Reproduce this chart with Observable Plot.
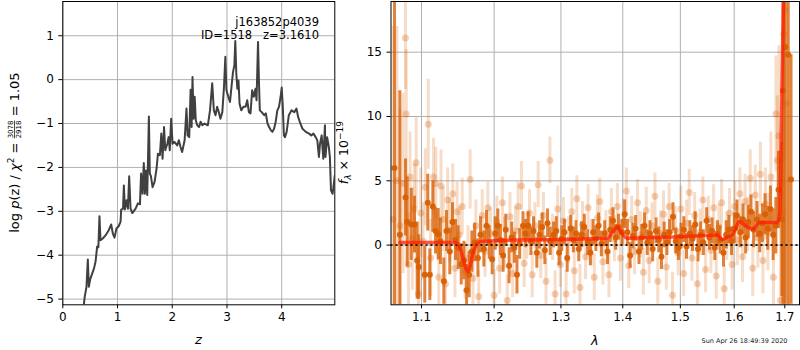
<!DOCTYPE html>
<html><head><meta charset="utf-8">
<script src="https://cdn.jsdelivr.net/npm/d3@7"></script>
<script src="https://cdn.jsdelivr.net/npm/@observablehq/plot@0.6"></script>
<style>
body{margin:0;background:#fff;}
#wrap{position:relative;width:800px;height:350px;font-family:"DejaVu Sans",sans-serif;overflow:hidden;}
#left{position:absolute;left:0;top:0;}
#right{position:absolute;left:336px;top:0;}
svg{overflow:visible;}
</style></head>
<body><div id="wrap"><div id="left"></div><div id="right"></div></div>
<script>
// ---------- left panel: log p(z) ----------
const zVals = [0.37,0.40,0.433,0.457,0.476,0.50,0.537,0.57,0.598,0.628,0.65,0.67,0.689,0.73,0.78,0.84,0.884,0.915,0.945,0.98,1.02,1.055,1.067,1.10,1.116,1.134,1.165,1.19,1.213,1.238,1.27,1.33,1.372,1.41,1.43,1.457,1.48,1.50,1.52,1.543,1.573,1.59,1.61,1.64,1.677,1.713,1.738,1.774,1.80,1.823,1.85,1.872,1.91,1.933,1.955,1.98,2.006,2.04,2.09,2.12,2.15,2.18,2.226,2.26,2.28,2.31,2.335,2.354,2.37,2.39,2.41,2.43,2.457,2.49,2.518,2.55,2.59,2.65,2.69,2.73,2.76,2.79,2.82,2.85,2.88,2.915,2.945,2.97,2.99,3.024,3.055,3.085,3.11,3.135,3.152,3.17,3.19,3.21,3.23,3.26,3.30,3.34,3.37,3.40,3.43,3.46,3.49,3.52,3.54,3.567,3.585,3.60,3.634,3.68,3.71,3.74,3.77,3.80,3.83,3.86,3.89,3.92,3.95,3.98,4.0,4.02,4.04,4.06,4.09,4.13,4.18,4.23,4.27,4.30,4.33,4.38,4.44,4.50,4.54,4.58,4.62,4.65,4.68,4.70,4.73,4.745,4.76,4.79,4.80,4.83,4.86,4.88,4.90,4.93,4.945,4.97];
const logpVals = [-5.3,-4.95,-4.72,-4.10,-4.72,-4.55,-4.42,-4.3,-4.15,-3.80,-3.82,-3.11,-3.66,-3.62,-3.55,-3.43,-3.30,-3.51,-3.60,-3.39,-3.34,-3.24,-2.96,-2.94,-2.41,-2.96,-2.75,-2.94,-2.20,-2.94,-3.04,-2.94,-2.82,-2.84,-2.14,-2.60,-1.90,-2.60,-2.07,-2.63,-0.84,-2.14,-2.2,-2.45,-2.33,-2.03,-1.69,-1.72,-1.23,-1.80,-1.08,-1.61,-1.46,-1.31,-1.61,-0.89,-1.46,-1.42,-1.50,-1.38,-1.53,-1.65,-1.38,-0.66,-1.27,-1.31,-0.23,-1.08,0.06,-0.89,-0.39,-0.93,-1.04,-1.08,-0.96,-1.04,-1.00,-1.04,-0.70,-0.08,-0.70,-0.81,-0.62,-0.74,-0.89,-0.74,-0.17,0.52,-0.24,-0.39,-0.51,-0.13,0.17,0.33,0.88,0.14,-0.21,-0.02,-0.55,-0.70,-0.62,-0.62,-0.47,-0.74,-0.77,-0.24,-0.39,-0.21,-0.47,0.86,-0.09,-0.70,-0.74,-0.81,-0.77,-1.00,-1.08,-1.15,-1.19,-1.12,-0.96,-0.70,-0.62,-0.39,-0.18,-0.62,-1.27,-1.31,-1.19,-0.81,-0.70,-0.74,-0.66,-0.85,-0.96,-1.12,-1.19,-1.23,-1.27,-1.23,-1.31,-1.38,-1.76,-1.46,-1.27,-1.55,-1.80,-1.04,-1.76,-1.31,-1.53,-1.76,-2.52,-2.60,-2.45,-2.18];
const zTicks = [0,1,2,3,4];
const lpTicks = [-5,-4,-3,-2,-1,0,1];
const annotation = "j163852p4039\nID=1518   z=3.1610";

// ---------- right panel: spectrum ----------
const darkLam = [1.065,1.0718,1.0791,1.0813,1.0865,1.0908,1.0943,1.0964,1.1043,1.1083,1.1110,1.1150,1.1186,1.1222,1.1253,1.1298,1.1334,1.1379,1.1416,1.1457,1.1494,1.1536,1.1573,1.1610,1.1647,1.1684,1.1722,1.1769,1.1806,1.1853,1.1891,1.1930,1.1972,1.2016,1.2053,1.2091,1.2130,1.2168,1.2217,1.2255,1.2294,1.2333,1.2373,1.2422,1.2461,1.2500,1.2540,1.2580,1.2630,1.2670,1.2711,1.2752,1.2793,1.2834,1.2886,1.2928,1.2971,1.3013,1.3055,1.3098,1.3152,1.3195,1.3238,1.3281,1.3325,1.3369,1.3423,1.3467,1.3512,1.3556,1.3600,1.3645,1.3700,1.3746,1.3791,1.3837,1.3882,1.3928,1.3986,1.4032,1.4078,1.4124,1.4171,1.4217,1.4275,1.4322,1.4369,1.4416,1.4463,1.4510,1.4569,1.4617,1.4664,1.4712,1.4760,1.4808,1.4868,1.4917,1.4965,1.5014,1.5063,1.5111,1.5172,1.5221,1.5270,1.5320,1.5369,1.5419,1.5481,1.5531,1.5581,1.5632,1.5682,1.5733,1.5796,1.5847,1.5898,1.5949,1.6001,1.6052,1.6117,1.6169,1.6220,1.6273,1.6325,1.6377,1.6443,1.6496,1.6549,1.6602,1.6656,1.6710,1.6764,1.6818,1.6872,1.6940,1.6965,1.7010,1.7070,1.7127];
const darkFlux = [6,0.8,3.7,1.8,1.6,1.6,-1.2,-1.7,-2.3,3.3,-2.3,3.0,1.1,0.85,0.3,-2.8,1.1,-0.5,1.8,0.4,-0.2,-1.5,-1.2,-3.5,-2.3,-0.5,0.2,-1.0,0.8,-0.3,1.5,0.2,-1.1,0.9,1.5,0.4,-0.8,1.2,-1.6,0.6,-0.2,-2.3,0.1,1.5,0.9,1.5,0.3,1.1,-0.6,0.8,1.4,-0.4,1.7,0.3,0.8,1.1,-0.6,0.5,1.0,-1.0,1.3,0.4,0.9,-0.3,0.8,1.4,0.2,-0.6,1.0,0.5,1.5,0.1,0.9,-0.5,1.2,1.9,0.6,1.4,1.0,2.4,1.0,-0.8,0.7,1.3,-0.5,0.6,1.5,0.2,0.9,-0.3,1.1,0.4,-0.9,0.8,0.2,1.0,2.2,0.3,-0.2,0.7,1.2,-0.1,0.9,0.5,1.6,-0.3,0.8,0.2,1.9,0.6,1.1,-0.2,0.9,0.4,-0.6,0.8,1.2,0.3,1.3,2.3,1.0,2.0,0.6,1.8,2.6,1.2,2.0,0.9,1.7,2.4,1.3,2.8,0.8,1.5,4.3,2.0,12,15.4,14.8,5.1];
const darkErr = [20,11.2,3.0,3.5,2.8,2.2,3.0,2.5,2.2,2.2,2.0,2.0,1.8,2.0,1.8,1.8,1.6,1.8,1.5,1.6,1.7,1.6,1.5,2.0,1.8,1.6,1.5,1.5,1.4,1.4,1.2,1.3,1.2,1.3,1.3,1.2,1.3,1.2,1.4,1.2,1.2,1.5,1.2,1.1,1.1,1.1,1.1,1.1,1.2,1.1,1.1,1.1,1.1,1.1,1.0,1.1,1.0,1.0,1.0,1.1,1.0,1.0,1.0,1.0,1.0,1.0,1.0,1.0,1.0,1.0,1.0,1.0,1.0,1.0,1.0,1.0,1.0,1.0,1.0,1.1,1.0,1.0,1.0,1.0,1.0,1.0,1.0,1.0,1.0,1.0,1.0,1.0,1.0,1.0,1.0,1.0,1.1,1.0,1.0,1.0,1.0,1.0,1.0,1.0,1.0,1.0,1.0,1.0,1.0,1.0,1.0,1.0,1.0,1.1,1.1,1.1,1.1,1.1,1.2,1.2,1.2,1.2,1.3,1.3,1.3,1.4,1.4,1.5,1.5,1.6,1.7,1.8,2.0,2.2,3.0,6.0,25,20,19.5,9.7];

const lightLam = [1.0630,1.0680,1.0720,1.0760,1.0790,1.0800,1.0830,1.0850,1.0880,1.0905,1.0930,1.0960,1.0990,1.1020,1.1050,1.1090,1.1120,1.1160,1.1190,1.1230,1.1260,1.1290,1.1320,1.1350,1.1380,1.1420,1.1450,1.1480,1.1510,1.1550,1.1590,1.1630,1.1660,1.1700,1.1740,1.1780,1.1830,1.1870,1.1910,1.1950,1.2000,1.2040,1.2080,1.2120,1.2150,1.2190,1.2230,1.2270,1.2310,1.2350,1.2400,1.2440,1.2480,1.2520,1.2560,1.2600,1.2650,1.2690,1.2730,1.2770,1.2830,1.2870,1.2910,1.2950,1.2990,1.3040,1.3080,1.3120,1.3170,1.3210,1.3250,1.3300,1.3340,1.3390,1.3430,1.3480,1.3530,1.3580,1.3620,1.3670,1.3720,1.3770,1.3810,1.3860,1.3910,1.3960,1.4010,1.4060,1.4100,1.4150,1.4200,1.4250,1.4300,1.4350,1.4400,1.4450,1.4500,1.4550,1.4600,1.4650,1.4700,1.4750,1.4800,1.4860,1.4910,1.4960,1.5010,1.5060,1.5110,1.5160,1.5210,1.5260,1.5310,1.5360,1.5410,1.5460,1.5510,1.5560,1.5610,1.5660,1.5710,1.5760,1.5810,1.5860,1.5910,1.5960,1.6010,1.6060,1.6110,1.6160,1.6210,1.6260,1.6310,1.6360,1.6410,1.6460,1.6510,1.6560,1.6610,1.6660,1.6720,1.6770,1.6820,1.6850,1.6880,1.6910,1.6950,1.6980,1.7000,1.7030];
const lightFlux = [2.0,5.0,1.5,4.8,16.1,10.2,-1.5,5.3,0.5,2.8,6.4,-3.8,2.5,0.3,4.5,9.4,-1.0,5.3,4.8,-2.5,4.6,2.0,-3.0,3.5,1.2,4.0,-1.8,2.6,0.8,3.0,-2.0,-1.0,5.1,-2.6,1.5,-4.0,2.3,-0.5,2.9,0.9,-3.9,1.8,-1.8,3.3,0.2,-4.3,2.2,-2.2,1.1,3.0,4.6,-1.4,0.7,2.5,-2.3,1.5,4.7,-0.8,2.3,-2.8,6.6,0.6,-3.8,2.8,-1.5,1.9,-3.8,0.4,2.6,-2.0,3.6,-3.3,1.6,-0.9,2.9,0.2,-2.5,2.1,3.4,-1.3,0.9,-2.3,2.6,0.5,3.0,-1.0,1.8,4.2,-1.6,2.0,-0.5,3.3,0.8,-2.1,2.7,-1.2,1.5,3.8,-2.8,0.9,2.4,-1.7,3.0,-3.9,1.2,-0.6,2.8,-2.2,1.7,4.1,-1.0,2.3,-3.0,1.0,3.5,-1.9,2.0,-0.4,2.9,-2.4,1.4,3.3,-3.4,0.7,2.5,-1.5,3.0,0.4,4.0,-0.9,3.4,1.6,5.2,-1.8,3.9,0.6,5.5,-1.2,3.2,1.0,5.3,-2.5,10.2,6.6,8.5,-4.3,2.5,16.4,18.3,11];
const lightErr = [15,12,9,7,4,5,4,3.5,4,3.5,3.5,3,3.5,3,3,3.5,3,3,2.8,3,2.8,2.5,2.5,2.5,2.5,2.3,2.3,2.3,2.2,2.2,2.2,2.5,2.3,2.2,2.0,2.0,2.0,2.0,2.0,2.0,2.0,2.0,2.0,2.0,2.0,2.0,1.9,1.9,1.9,1.9,1.9,1.9,1.8,1.8,1.8,1.8,1.8,1.8,1.8,1.8,1.8,1.8,1.8,1.8,1.8,1.8,1.8,1.8,1.8,1.8,1.8,1.8,1.8,1.8,1.8,1.8,1.8,1.8,1.8,1.8,1.8,1.8,1.8,1.8,1.8,1.8,1.8,1.8,1.8,1.8,1.8,1.8,1.8,1.8,1.8,1.8,1.8,1.8,1.8,1.8,1.8,1.8,1.8,1.8,1.8,1.8,1.8,1.8,1.8,1.8,1.8,1.8,1.8,1.8,1.8,1.8,1.8,1.8,1.8,1.8,1.8,1.8,1.8,1.9,1.9,2.0,2.0,2.0,2.0,2.0,2.1,2.1,2.2,2.2,2.3,2.4,2.5,2.6,2.8,3.0,3.5,4.0,4.5,5.0,7,6,7,10];

const modelLam = [1.0718,1.100,1.146,1.152,1.157,1.160,1.163,1.166,1.170,1.175,1.1806,1.200,1.250,1.300,1.374,1.382,1.387,1.391,1.396,1.402,1.4074,1.450,1.500,1.5677,1.577,1.586,1.596,1.603,1.6088,1.622,1.6348,1.6498,1.6846,1.690,1.6927,1.6954,1.6985,1.7005];
const modelFlux = [0.2,0.2,0.2,-0.2,-1.2,-1.8,-2.05,-1.6,-0.6,0.05,0.28,0.34,0.40,0.44,0.54,0.9,1.25,1.42,1.1,0.7,0.54,0.6,0.65,0.78,0.44,0.6,0.78,1.3,1.84,1.5,1.24,1.76,1.76,2.4,9.1,15.1,22,30];

const lamTicks = [1.1,1.2,1.3,1.4,1.5,1.6,1.7];
const fTicks = [0,5,10,15];
const zeroLine = [0];
const stamp = "Sun Apr 26 18:49:39 2020";

const pz = zVals.map((z,i)=>({z, lp: logpVals[i]}));
const dark = darkLam.map((l,i)=>({l, f: darkFlux[i], e: darkErr[i]}));
const light = lightLam.map((l,i)=>({l, f: lightFlux[i], e: lightErr[i]}));
const model = modelLam.map((l,i)=>({l, f: modelFlux[i]}));

const grid = "#b0b0b0";
const orange = "#d95f02";
const intFmt = d => (d < 0 ? "\u2212" + Math.abs(d) : String(d));
const baseStyle = {fontFamily: "DejaVu Sans, sans-serif", fontSize: "12px", background: "transparent", color: "black", overflow: "visible"};

const left = Plot.plot({
  width: 336, height: 350,
  marginLeft: 62.3, marginRight: 1.7, marginTop: 1, marginBottom: 45.7,
  style: baseStyle,
  x: {domain: [0, 4.97], ticks: zTicks, tickSize: 4, tickPadding: 4, label: null, tickFormat: intFmt},
  y: {domain: [-5.13, 1.78], ticks: lpTicks, tickSize: 4, tickPadding: 5, label: null, tickFormat: intFmt},
  marks: [
    Plot.ruleX(zTicks, {stroke: grid, strokeWidth: 1}),
    Plot.ruleY(lpTicks, {stroke: grid, strokeWidth: 1}),
    Plot.line(pz, {x: "z", y: "lp", stroke: "#404040", strokeWidth: 2, clip: true}),
    Plot.text([annotation], {frameAnchor: "top-right", dx: -15.8, dy: 14.3, lineAnchor: "top", textAnchor: "end", fontSize: 11.5, lineHeight: 1.2, fill: "black"}),
    Plot.frame({stroke: "black"})
  ]
});

const right = Plot.plot({
  width: 464, height: 350,
  marginLeft: 54.5, marginRight: 1, marginTop: 1, marginBottom: 45.7,
  style: baseStyle,
  x: {type: "log", domain: [1.0605, 1.7302], ticks: lamTicks, tickFormat: d3.format(".1f"), tickSize: 4, tickPadding: 4, label: null},
  y: {domain: [-4.64, 18.94], ticks: fTicks, tickSize: 4, tickPadding: 5, label: null, tickFormat: intFmt},
  marks: [
    Plot.ruleX(lamTicks, {stroke: grid, strokeWidth: 1}),
    Plot.ruleY(fTicks, {stroke: grid, strokeWidth: 1}),
    Plot.ruleX(light, {x: "l", y1: d => d.f - d.e, y2: d => d.f + d.e, stroke: orange, strokeOpacity: 0.22, strokeWidth: 3, clip: true}),
    Plot.dot(light, {x: "l", y: "f", r: 3.5, fill: orange, fillOpacity: 0.28, stroke: "none", clip: true}),
    Plot.ruleX(dark, {x: "l", y1: d => d.f - d.e, y2: d => d.f + d.e, stroke: orange, strokeOpacity: 0.78, strokeWidth: 3, clip: true}),
    Plot.dot(dark, {x: "l", y: "f", r: 3, fill: orange, fillOpacity: 0.95, stroke: "none", clip: true}),
    Plot.ruleY(zeroLine, {stroke: "black", strokeOpacity: 0.85, strokeWidth: 2, strokeDasharray: "2,3"}),
    Plot.line(model, {x: "l", y: "f", stroke: "#ff1a00", strokeOpacity: 0.72, strokeWidth: 3.5, curve: "monotone-x", clip: true}),
    Plot.frame({stroke: "black"})
  ]
});

document.getElementById("left").appendChild(left);
document.getElementById("right").appendChild(right);

// ---------- axis labels ----------
const sL = d3.select(left), sR = d3.select(right);
sL.append("text").attr("x", 198.3).attr("y", 344).attr("text-anchor", "middle")
  .attr("font-style", "italic").attr("font-size", 13).attr("fill", "black").text("z");
sR.append("text").attr("x", 258.75).attr("y", 345).attr("text-anchor", "middle")
  .attr("font-style", "italic").attr("font-size", 13).attr("fill", "black").text("λ");

// left y label with fraction (single text, centered)
const tL = sL.append("text").attr("text-anchor", "middle").attr("font-size", 13).attr("fill", "black")
  .attr("transform", "translate(18.5,152.6) rotate(-90)");
tL.append("tspan").text("log ");
tL.append("tspan").attr("font-style", "italic").text("p");
tL.append("tspan").text("(z) / ");
tL.append("tspan").attr("font-style", "italic").text("χ");
tL.append("tspan").attr("font-size", 9).attr("dy", -5).text("2");
tL.append("tspan").attr("dy", 5).text(" = ");
tL.append("tspan").attr("font-size", 7).attr("dy", -5.5).attr("text-decoration", "underline").text("3078");
tL.append("tspan").attr("font-size", 7).attr("dx", -17.8).attr("dy", 8.3).text("2918");
tL.append("tspan").attr("dy", -2.8).text(" = 1.05");

// right y label f_λ × 10^-19
const tR = sR.append("text").attr("text-anchor", "middle").attr("font-size", 12.5).attr("fill", "black")
  .attr("transform", "translate(12,152.6) rotate(-90)");
tR.append("tspan").attr("font-style", "italic").text("f");
tR.append("tspan").attr("font-size", 9).attr("font-style", "italic").attr("dy", 3).text("λ");
tR.append("tspan").attr("dy", -3).text(" × 10");
tR.append("tspan").attr("font-size", 9).attr("dy", -5.5).text("−19");

// timestamp
sR.append("text").attr("x", 451.5).attr("y", 343).attr("text-anchor", "end")
  .attr("font-size", 6.5).attr("fill", "#222").text(stamp);
</script>
</body></html>
